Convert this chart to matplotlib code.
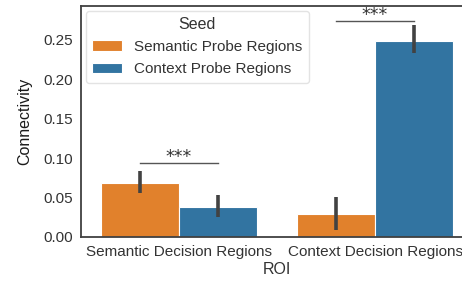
import numpy as np
import matplotlib.pyplot as plt

plt.rcParams['font.family'] = ['Liberation Sans', 'DejaVu Sans']

rois = ['Semantic Decision Regions', 'Context Decision Regions']
seeds = ['Semantic Probe Regions', 'Context Probe Regions']
colors = ['#e1812c', '#3274a1']

# mean connectivity per seed (rows) and ROI (columns)
means = [[0.069, 0.029],
         [0.0385, 0.248]]
err_lo = [[0.056, 0.009],
          [0.026, 0.233]]
err_hi = [[0.084, 0.051],
          [0.053, 0.269]]

sig_heights = [0.094, 0.274]
sig_labels = ['***', '***']

fig = plt.figure(figsize=(4.62, 2.83), dpi=100)
ax = fig.add_axes([81 / 462, 1 - 237 / 283, 392 / 462, 231 / 283])

x = np.arange(len(rois))
w = 0.4
for i, seed in enumerate(seeds):
    pos = x + (i - 0.5) * w
    ax.bar(pos, means[i], width=w, color=colors[i], edgecolor='white',
           linewidth=0.8, label=seed, zorder=2)
    for p, lo, hi in zip(pos, err_lo[i], err_hi[i]):
        ax.plot([p, p], [lo, hi], color='#424242', lw=2.6, zorder=3,
                solid_capstyle='butt')

for xi, h, lab in zip(x, sig_heights, sig_labels):
    ax.plot([xi - w / 2, xi + w / 2], [h, h], color='#555555', lw=1.0)
    ax.annotate(lab, (xi, h), xytext=(0, 0.5), textcoords='offset points',
                ha='center', va='baseline', fontsize=12.5,
                color='#333333', family='DejaVu Sans')

ax.set_xlim(-0.5, 1.5)
ax.set_ylim(0, 0.293)
ax.set_yticks([0, 0.05, 0.10, 0.15, 0.20, 0.25])
ax.set_yticklabels(['0.00', '0.05', '0.10', '0.15', '0.20', '0.25'])
ax.set_xticks(x)
ax.set_xticklabels(rois)
ax.tick_params(labelsize=11, colors='#333333', length=0, pad=6)
ax.set_xlabel('ROI', fontsize=11.5, color='#333333', labelpad=2)
ax.set_ylabel('Connectivity', fontsize=11.5, color='#1a1a1a', labelpad=8)
for s in ax.spines.values():
    s.set_color('#404040')
    s.set_linewidth(1.3)
ax.spines['right'].set_visible(False)

leg = ax.legend(title='Seed', loc='upper left', fontsize=11, title_fontsize=11.5,
                frameon=True, fancybox=True, borderpad=0.4,
                handlelength=2.0, handletextpad=0.8, labelspacing=0.55,
                borderaxespad=0.3)
leg.get_frame().set_edgecolor('#dddddd')
for t in leg.get_texts():
    t.set_color('#333333')
leg.get_title().set_color('#333333')

fig.savefig('out.png', dpi=100)
